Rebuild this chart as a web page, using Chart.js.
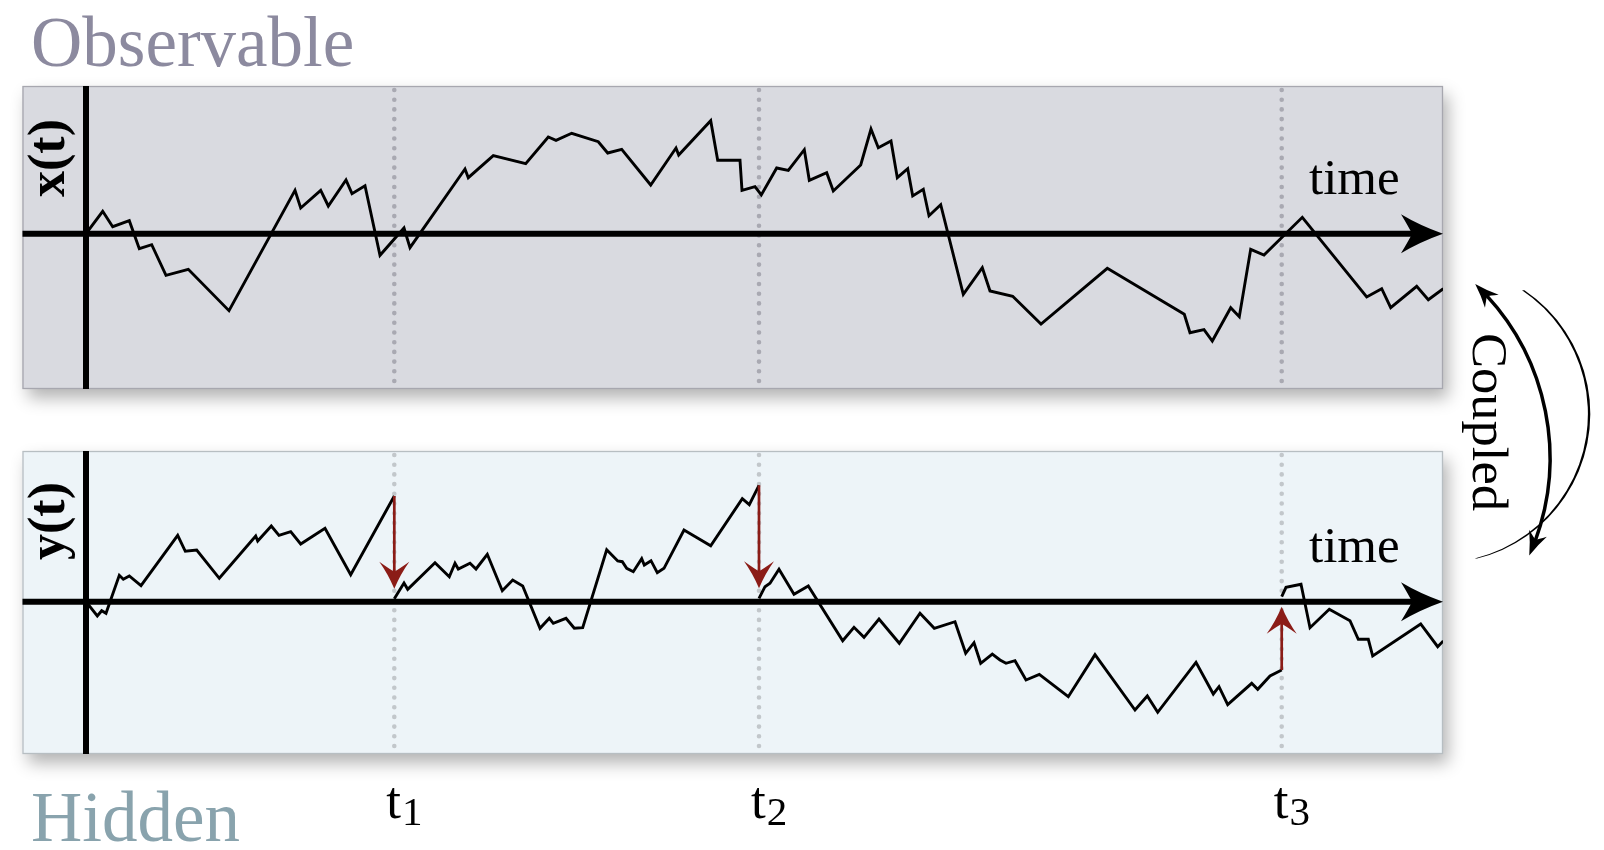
<!DOCTYPE html>
<html lang="en">
<head>
<meta charset="UTF-8">
<title>Observable and hidden processes</title>
<script src="https://cdn.jsdelivr.net/npm/chart.js@4"></script>
<style>
  html, body { margin: 0; padding: 0; background: #fff; }
  #wrap { position: relative; width: 1604px; height: 850px; }
  #wrap canvas { position: absolute; left: 0; top: 0; }
</style>
</head>
<body>
<div id="wrap">
  <canvas id="topChart" width="1604" height="850"></canvas>
  <canvas id="bottomChart" width="1604" height="850"></canvas>
</div>
<script>
// observable process x(t)
const xTimes = [0, 1.67, 2.67, 4.33, 5.33, 6.57, 8.0, 10.23, 14.3, 20.9, 21.47, 23.47, 24.23, 26.0, 26.6, 27.9, 29.4, 31.8, 32.4,
  37.9, 38.23, 40.73, 43.97, 46.23, 47.0, 48.57, 51.23, 52.17, 53.57, 56.47, 59.0, 59.27, 62.47, 63.17, 65.4, 65.6, 66.9, 67.53, 69.07,
  70.23, 71.83, 72.33, 74.07, 74.73, 77.47, 78.5, 79.23, 80.5, 81.13, 82.17, 82.67, 83.73, 84.3, 85.47, 87.73, 89.63, 90.4, 92.67, 95.5,
  102.13, 109.83, 110.4, 111.8, 112.63, 114.47, 115.33, 116.47, 117.8, 121.63, 128.07, 129.57, 130.47, 133.07, 134.23, 135.73];
const xValues = [0, 2.24, 0.70, 1.30, -1.50, -1.10, -4.16, -3.56, -7.70, 4.34, 2.57, 4.34, 2.77, 5.37, 4.0, 4.8, -2.16, 0.57, -1.40,
  6.47, 5.60, 7.80, 7.00, 9.67, 9.34, 10.04, 9.20, 8.07, 8.44, 4.87, 8.57, 7.87, 11.30, 7.34, 7.34, 4.34, 4.70, 3.87, 6.57,
  6.34, 8.40, 5.34, 6.10, 4.27, 6.87, 10.47, 8.60, 9.27, 5.60, 6.50, 3.77, 4.44, 1.80, 2.90, -6.06, -3.40, -5.73, -6.26, -9.03,
  -3.46, -8.06, -9.90, -9.60, -10.73, -7.40, -8.30, -1.56, -2.13, 1.64, -6.33, -5.50, -7.40, -5.26, -6.60, -5.50];

// hidden process y(t); null marks a jump (reset) at t1, t2, t3
const yTimes = [0, 1.13, 1.57, 2.0, 3.33, 3.73, 4.33, 5.5, 9.17, 9.93, 11.07, 13.33, 16.97, 17.17, 18.53, 19.3, 20.47, 21.47, 23.9, 26.47, 30.83,
  30.83,
  30.83, 31.8, 32.17, 34.9, 36.33, 36.9, 37.23, 38.4, 39.0, 40.13, 41.63, 42.67, 43.67, 45.4, 46.33, 46.73, 48.0, 48.83, 49.67,
  52.07, 53.17, 53.63, 54.07, 54.73, 55.57, 55.83, 56.5, 57.13, 57.8, 59.8, 62.47, 65.63, 66.33, 67.3,
  67.3,
  67.3, 67.9, 68.4, 69.3, 70.8, 72.23, 75.67, 76.8, 77.8, 79.3, 81.33, 83.4, 84.83, 86.9, 87.97, 88.8, 89.47, 90.63, 91.4, 92.0,
  92.9, 94.0, 95.33, 98.23, 100.9, 104.9, 106.13, 107.17, 111.0, 112.73, 113.3, 114.17, 116.57, 117.17, 118.4, 119.57,
  119.57,
  119.57, 120.0, 121.5, 122.4, 124.33, 126.4, 127.23, 128.23, 128.67, 133.47, 135.17, 135.73];
const yValues = [0, -1.43, -0.90, -1.16, 2.64, 2.24, 2.57, 1.60, 6.64, 5.04, 5.17, 2.34, 6.57, 6.07, 7.57, 6.64, 7.0, 5.77, 7.34, 2.70, 10.57,
  null,
  0.3, 1.87, 1.24, 3.90, 2.50, 3.84, 3.27, 3.84, 3.27, 4.74, 1.10, 2.17, 1.57, -2.66, -1.66, -2.16, -1.66, -2.66, -2.60,
  5.20, 4.07, 4.0, 3.34, 3.0, 4.30, 3.67, 4.10, 2.90, 3.34, 7.17, 5.60, 10.30, 9.70, 11.64,
  null,
  0.34, 1.50, 1.84, 3.24, 0.74, 1.57, -3.90, -2.56, -3.56, -1.73, -4.16, -1.16, -2.66, -2.0, -5.16, -4.10, -6.16, -5.23, -5.83, -6.16,
  -5.90, -7.83, -7.26, -9.50, -5.30, -10.83, -9.43, -11.06, -6.06, -9.23, -8.50, -10.30, -8.16, -8.76, -7.43, -6.83,
  null,
  0.5, 1.44, 1.74, -2.60, -0.76, -1.90, -3.76, -3.76, -5.43, -2.23, -4.50, -3.93];

const eventTimes = [30.83, 67.3, 119.57];
const eventLabels = ['1', '2', '3'];

const X_MIN = -6.35, X_MAX = 135.7;
const TOP_Y = [-15.53, 14.77];
const BOTTOM_Y = [-15.23, 15.07];

const SERIF = '"Liberation Serif", "Times New Roman", serif';

function stealth(ctx, tx, ty, dx, dy, len, half, notch) {
  const px = -dy, py = dx;
  const bx = tx - dx * len, by = ty - dy * len;
  const nx = tx - dx * (len - notch), ny = ty - dy * (len - notch);
  ctx.beginPath();
  ctx.moveTo(tx, ty);
  ctx.quadraticCurveTo(tx - dx * len * 0.55 + px * half * 0.42, ty - dy * len * 0.55 + py * half * 0.42, bx + px * half, by + py * half);
  ctx.quadraticCurveTo(nx - dx * notch * 0.2 + px * half * 0.25, ny - dy * notch * 0.2 + py * half * 0.25, nx, ny);
  ctx.quadraticCurveTo(nx - dx * notch * 0.2 - px * half * 0.25, ny - dy * notch * 0.2 - py * half * 0.25, bx - px * half, by - py * half);
  ctx.quadraticCurveTo(tx - dx * len * 0.55 - px * half * 0.42, ty - dy * len * 0.55 - py * half * 0.42, tx, ty);
  ctx.closePath();
  ctx.fill();
}

function rotatedText(ctx, text, x, y, angle, font, stretch, color) {
  ctx.save();
  ctx.translate(x, y);
  ctx.rotate(angle);
  ctx.scale(stretch, 1);
  ctx.font = font;
  ctx.fillStyle = color;
  ctx.textAlign = 'center';
  ctx.textBaseline = 'alphabetic';
  ctx.fillText(text, 0, 0);
  ctx.restore();
}

function panelPlugin(cfg) {
  return {
    id: 'panel',
    beforeDraw(chart) {
      const { ctx, chartArea: a } = chart;
      ctx.save();
      ctx.shadowColor = 'rgba(0,0,0,0.30)';
      ctx.shadowBlur = 16;
      ctx.shadowOffsetX = 5;
      ctx.shadowOffsetY = 9;
      ctx.fillStyle = cfg.bg;
      ctx.fillRect(a.left, a.top, a.width, a.height);
      ctx.restore();
      ctx.save();
      ctx.strokeStyle = cfg.frame;
      ctx.lineWidth = 1.3;
      ctx.strokeRect(a.left + 0.5, a.top + 0.5, a.width - 1, a.height - 1);
      ctx.restore();
    },
    beforeDatasetsDraw(chart) {
      const { ctx, chartArea: a, scales } = chart;
      const xs = scales.x, ys = scales.y;
      // dotted event lines
      ctx.save();
      ctx.strokeStyle = cfg.dots;
      ctx.lineWidth = 4.6;
      ctx.lineCap = 'round';
      ctx.setLineDash([0, 9.7]);
      eventTimes.forEach(t => {
        const px = xs.getPixelForValue(t);
        ctx.beginPath();
        ctx.moveTo(px, a.top + 4);
        ctx.lineTo(px, a.bottom);
        ctx.stroke();
      });
      ctx.restore();
      // axes
      const ox = xs.getPixelForValue(0), oy = ys.getPixelForValue(0);
      ctx.save();
      ctx.strokeStyle = '#000';
      ctx.fillStyle = '#000';
      ctx.lineWidth = 6;
      ctx.beginPath();
      ctx.moveTo(ox, a.top);
      ctx.lineTo(ox, a.bottom);
      ctx.stroke();
      ctx.beginPath();
      ctx.moveTo(a.left, oy);
      ctx.lineTo(a.right - 30, oy);
      ctx.stroke();
      stealth(ctx, a.right, oy, 1, 0, 42, 19.5, 11);
      ctx.restore();
    },
    afterDatasetsDraw(chart) {
      cfg.after(chart);
    }
  };
}

function makePanel(id, points, yRange, padding, cfg) {
  return new Chart(document.getElementById(id), {
    type: 'line',
    data: {
      datasets: [{
        data: points,
        borderColor: '#000',
        borderWidth: 2.9,
        pointRadius: 0,
        tension: 0,
        spanGaps: false,
        fill: false
      }]
    },
    options: {
      responsive: false,
      animation: false,
      events: [],
      layout: { padding: padding },
      plugins: { legend: { display: false }, tooltip: { enabled: false }, title: { display: false } },
      scales: {
        x: { type: 'linear', min: X_MIN, max: X_MAX, display: false },
        y: { type: 'linear', min: yRange[0], max: yRange[1], display: false }
      }
    },
    plugins: [panelPlugin(cfg)]
  });
}

function timeLabel(ctx, a, oy) {
  ctx.save();
  ctx.font = '51px ' + SERIF;
  ctx.fillStyle = '#000';
  ctx.textBaseline = 'alphabetic';
  ctx.fillText('time', a.right - 134, oy - 40);
  ctx.restore();
}

const topPoints = xTimes.map((t, i) => ({ x: t, y: xValues[i] }));
const bottomPoints = yTimes.map((t, i) => ({ x: t, y: yValues[i] }));

makePanel('topChart', topPoints, TOP_Y, { left: 22.5, right: 161, top: 86, bottom: 461 }, {
  bg: '#d9dae0', frame: '#a7a7af', dots: '#a9a9b2',
  after(chart) {
    const { ctx, chartArea: a, scales } = chart;
    const oy = scales.y.getPixelForValue(0);
    timeLabel(ctx, a, oy);
    ctx.save();
    ctx.font = '71px ' + SERIF;
    ctx.fillStyle = '#8c8a9f';
    ctx.fillText('Observable', 31, a.top - 20);
    ctx.restore();
    rotatedText(ctx, 'x(t)', 64, a.top + 72, -Math.PI / 2, 'bold 52px ' + SERIF, 1.0, '#000');
  }
});

makePanel('bottomChart', bottomPoints, BOTTOM_Y, { left: 22.5, right: 161, top: 451, bottom: 96 }, {
  bg: '#edf4f8', frame: '#b7bec2', dots: '#c2c7cb',
  after(chart) {
    const { ctx, chartArea: a, scales } = chart;
    const xs = scales.x, ys = scales.y;
    const oy = ys.getPixelForValue(0);
    timeLabel(ctx, a, oy);

    // red reset arrows, taken from the jumps in the hidden series
    ctx.save();
    ctx.strokeStyle = '#8b1c17';
    ctx.fillStyle = '#8b1c17';
    ctx.lineWidth = 2.7;
    yValues.forEach((v, i) => {
      if (v !== null) return;
      const px = xs.getPixelForValue(yTimes[i]);
      const y0 = ys.getPixelForValue(yValues[i - 1]);
      const y1 = ys.getPixelForValue(yValues[i + 1]);
      const dir = Math.sign(y1 - y0);
      const tip = y1 - dir * 10;
      ctx.beginPath();
      ctx.moveTo(px, y0);
      ctx.lineTo(px, tip - dir * 16);
      ctx.stroke();
      stealth(ctx, px, tip, 0, dir, 27, 15, 10);
    });
    ctx.restore();

    // event labels t1, t2, t3
    ctx.save();
    ctx.fillStyle = '#000';
    eventTimes.forEach((t, i) => {
      const px = xs.getPixelForValue(t) - 8;
      ctx.font = '53px ' + SERIF;
      ctx.fillText('t', px, a.bottom + 64);
      const w = ctx.measureText('t').width;
      ctx.font = '41px ' + SERIF;
      ctx.fillText(eventLabels[i], px + w + 1, a.bottom + 71);
    });
    ctx.restore();

    ctx.save();
    ctx.font = '71px ' + SERIF;
    ctx.fillStyle = '#89a3ad';
    ctx.fillText('Hidden', 31, a.bottom + 87);
    ctx.restore();
    rotatedText(ctx, 'y(t)', 64, a.top + 70, -Math.PI / 2, 'bold 52px ' + SERIF, 1.0, '#000');

    // "Coupled" with its curved arrows
    rotatedText(ctx, 'Coupled', 1473, 422, Math.PI / 2, '51px ' + SERIF, 1.03, '#000');
    ctx.save();
    ctx.fillStyle = '#000';
    ctx.strokeStyle = '#000';
    const cx = 1310, cy = 458, r = 240;
    const a0 = -46.5 * Math.PI / 180, a1 = 24.0 * Math.PI / 180;
    const headA = 22 / r;
    ctx.lineWidth = 3.5;
    ctx.beginPath();
    ctx.arc(cx, cy, r, a0 + headA * 0.7, a1 - headA * 0.7);
    ctx.stroke();
    [[a0, a0 + headA], [a1, a1 - headA]].forEach(([at, ab]) => {
      const tx = cx + r * Math.cos(at), ty = cy + r * Math.sin(at);
      const bx = cx + r * Math.cos(ab), by = cy + r * Math.sin(ab);
      const d = Math.hypot(tx - bx, ty - by);
      stealth(ctx, tx, ty, (tx - bx) / d, (ty - by) / d, 24, 9.5, 7);
    });
    // thin crescent
    const c2x = 1441.3, c2y = 413.9, r2 = 149;
    const b0 = -56.1 * Math.PI / 180, b1 = 76.1 * Math.PI / 180;
    ctx.beginPath();
    ctx.arc(c2x, c2y, r2, b0, b1);
    ctx.arc(c2x - 2.4, c2y, r2, b1, b0, true);
    ctx.closePath();
    ctx.fill();
    ctx.restore();
  }
});
</script>
</body>
</html>
